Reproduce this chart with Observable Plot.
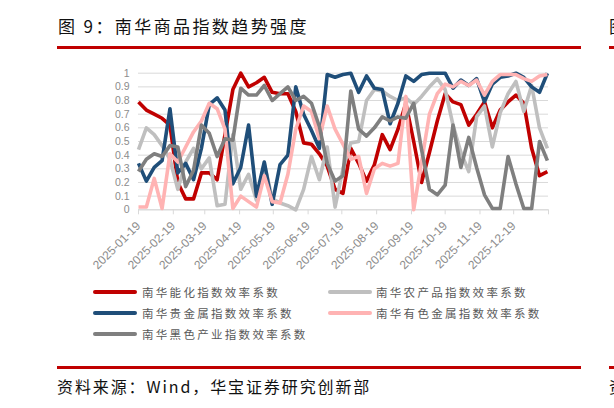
<!DOCTYPE html>
<html>
<head>
<meta charset="utf-8">
<script src="https://cdn.jsdelivr.net/npm/d3@7"></script>
<script src="https://cdn.jsdelivr.net/npm/@observablehq/plot@0.6"></script>
<style>
  html, body { margin: 0; padding: 0; background: #fff; }
  #wrap { position: relative; width: 614px; height: 408px; overflow: hidden; background: #fff; }
  #chart { position: absolute; left: 0; top: 0; }
  .abs { position: absolute; white-space: nowrap; }
  .cjk { font-family: "Noto Sans CJK SC", sans-serif; }
  .bar { position: absolute; background: #C00000; }
  .leg { position: absolute; font-family: "Noto Sans CJK SC", sans-serif; font-size: 11.5px; letter-spacing: 2.3px; color: #595959; white-space: nowrap; line-height: 14px; }
  .sw { position: absolute; height: 4px; width: 44px; border-radius: 2px; }
</style>
</head>
<body>
<div id="wrap">
  <div id="chart"></div>
  <div class="abs cjk" style="left:58px; top:13px; font-size:17px; letter-spacing:2.4px; color:#111;">图 9：南华商品指数趋势强度</div>
  <div class="bar" style="left:57px; top:46px; width:524px; height:3px;"></div>
  <div class="abs cjk" style="left:609px; top:13px; font-size:17px; color:#111;">图</div>
  <div class="bar" style="left:609px; top:46px; width:5px; height:3px;"></div>
  <div id="legend"></div>
  <div class="bar" style="left:57px; top:366px; width:524px; height:2.5px;"></div>
  <div class="bar" style="left:609px; top:366px; width:5px; height:2.5px;"></div>
  <div class="abs cjk" style="left:57px; top:374px; font-size:16px; letter-spacing:1.9px; color:#111;">资料来源：Wind，华宝证券研究创新部</div>
  <div class="abs cjk" style="left:609px; top:374px; font-size:16px; color:#111;">资</div>
</div>
<script>
// weekly observation dates
const dates = ["2025-01-19","2025-01-26","2025-02-02","2025-02-09","2025-02-16","2025-02-23","2025-03-02","2025-03-09","2025-03-16","2025-03-23","2025-03-30","2025-04-06","2025-04-13","2025-04-20","2025-04-27","2025-05-04","2025-05-11","2025-05-18","2025-05-25","2025-06-01","2025-06-08","2025-06-15","2025-06-22","2025-06-29","2025-07-06","2025-07-13","2025-07-20","2025-07-27","2025-08-03","2025-08-10","2025-08-17","2025-08-24","2025-08-31","2025-09-07","2025-09-14","2025-09-21","2025-09-28","2025-10-05","2025-10-12","2025-10-19","2025-10-26","2025-11-02","2025-11-09","2025-11-16","2025-11-23","2025-11-30","2025-12-07","2025-12-14","2025-12-21","2025-12-28","2026-01-04","2026-01-11","2026-01-18"];

const energyChem = [0.79,0.73,0.70,0.67,0.62,0.20,0.08,0.08,0.27,0.27,0.22,0.55,0.88,1.00,0.90,0.93,0.97,0.86,0.85,0.85,0.72,0.49,0.48,0.41,0.32,0.15,0.12,0.45,0.34,0.21,0.33,0.55,0.44,0.59,0.78,0.50,0.20,0.42,0.65,0.85,0.79,0.77,0.62,0.70,0.79,0.60,0.73,0.79,0.84,0.78,0.45,0.25,0.28];
const agri       = [0.44,0.60,0.55,0.47,0.37,0.15,0.35,0.45,0.30,0.38,0.03,0.04,0.55,0.15,0.26,0.07,0.34,0.08,0.05,0.03,0.00,0.15,0.39,0.22,0.46,0.02,0.30,0.49,0.50,0.80,0.88,0.87,0.83,0.80,0.82,0.77,0.83,0.90,0.96,0.88,0.62,0.42,0.28,0.68,0.76,0.46,0.71,0.85,0.94,0.72,0.91,0.60,0.45];
const precious   = [0.34,0.21,0.31,0.36,0.74,0.27,0.34,0.22,0.45,0.77,0.82,0.73,0.19,0.31,0.62,0.10,0.35,0.04,0.33,0.40,0.90,0.70,0.58,0.45,0.99,0.97,0.99,1.00,0.86,0.98,0.89,0.88,0.63,0.78,0.98,0.94,0.99,1.00,1.00,1.00,0.89,0.95,0.91,0.96,0.79,0.92,0.97,0.98,1.00,0.97,0.90,0.86,1.00];
const nonferrous = [0.02,0.02,0.23,0.01,0.41,0.35,0.46,0.57,0.65,0.78,0.74,0.59,0.01,0.10,0.06,0.02,0.25,0.06,0.05,0.26,0.59,0.76,0.72,0.52,0.76,0.59,0.48,0.37,0.39,0.12,0.30,0.34,0.32,0.34,0.83,0.00,0.35,0.70,0.85,0.92,0.90,0.94,0.91,0.95,0.84,0.94,0.99,0.99,0.99,0.96,0.94,0.98,0.99];
const ferrous    = [0.28,0.37,0.41,0.39,0.47,0.46,0.17,0.29,0.62,0.56,0.39,0.52,0.51,0.89,0.84,0.84,0.91,0.80,0.85,0.90,0.80,0.83,0.78,0.61,0.34,0.21,0.25,0.87,0.59,0.54,0.60,0.68,0.65,0.68,0.67,0.78,0.44,0.15,0.11,0.18,0.62,0.31,0.53,0.31,0.11,0.01,0.01,0.39,0.19,0.01,0.01,0.50,0.36];

const seriesNames = ["南华能化指数效率系数","南华农产品指数效率系数","南华贵金属指数效率系数","南华有色金属指数效率系数","南华黑色产业指数效率系数"];
const seriesColors = ["#C00000","#BFBFBF","#1F4E79","#FFB3B3","#7F7F7F"];
const seriesValues = [energyChem, agri, precious, nonferrous, ferrous];

const xTickDates = ["2025-01-19","2025-02-19","2025-03-19","2025-04-19","2025-05-19","2025-06-19","2025-07-19","2025-08-19","2025-09-19","2025-10-19","2025-11-19","2025-12-19","2026-01-19"];
const xTickLabels = ["2025-01-19","2025-02-19","2025-03-19","2025-04-19","2025-05-19","2025-06-19","2025-07-19","2025-08-19","2025-09-19","2025-10-19","2025-11-19","2025-12-19",""];
const yTicks = [0,0.1,0.2,0.3,0.4,0.5,0.6,0.7,0.8,0.9,1];
const yTickLabels = ["0","0.1","0.2","0.3","0.4","0.5","0.6","0.7","0.8","0.9","1"];

const parse = s => new Date(s + "T00:00:00Z");
const xDates = dates.map(parse);
const xTicks = xTickDates.map(parse);

const lineMarks = seriesValues.map((vals, k) =>
  Plot.line(vals.map((v, i) => ({date: xDates[i], value: v})), {
    x: "date", y: "value", stroke: seriesColors[k], strokeWidth: 3.6,
    strokeLinejoin: "round", strokeLinecap: "butt"
  })
);

const chart = Plot.plot({
  width: 614,
  height: 280,
  marginLeft: 138,
  marginRight: 66,
  marginTop: 72.7,
  marginBottom: 70.7,
  style: {fontFamily: "'Liberation Sans', Arial, sans-serif", fontSize: "11px", background: "transparent"},
  x: {type: "utc", domain: [xTicks[0], xTicks[xTicks.length - 1]], label: null},
  y: {domain: [0, 1], label: null},
  marks: [
    Plot.gridY(yTicks, {stroke: "#D9D9D9", strokeOpacity: 1, strokeWidth: 1}),
    Plot.ruleY([0], {stroke: "#D9D9D9", strokeWidth: 1}),
    ...lineMarks,
    Plot.axisY(yTicks, {
      tickSize: 0, tickPadding: 9, fill: "#8C8C8C", fontSize: 10.5, label: null,
      tickFormat: d => yTickLabels[yTicks.indexOf(d)]
    }),
    Plot.axisX(xTicks, {
      tickSize: 5, stroke: "#D9D9D9", fill: "#8C8C8C", tickRotate: -45, tickPadding: 9, fontSize: 12, label: null,
      tickFormat: d => xTickLabels[xTicks.findIndex(t => +t === +d)]
    })
  ]
});
document.getElementById("chart").appendChild(chart);

// legend
const legendPos = [
  {sx: 93, tx: 142, y: 292},
  {sx: 328, tx: 376, y: 292},
  {sx: 93, tx: 142, y: 313},
  {sx: 328, tx: 376, y: 313},
  {sx: 93, tx: 142, y: 334}
];
const leg = document.getElementById("legend");
seriesNames.forEach((name, k) => {
  const p = legendPos[k];
  const sw = document.createElement("div");
  sw.className = "sw";
  sw.style.left = p.sx + "px";
  sw.style.top = (p.y - 2) + "px";
  sw.style.background = seriesColors[k];
  leg.appendChild(sw);
  const t = document.createElement("div");
  t.className = "leg";
  t.style.left = p.tx + "px";
  t.style.top = (p.y - 7) + "px";
  t.textContent = name;
  leg.appendChild(t);
});
</script>
</body>
</html>
